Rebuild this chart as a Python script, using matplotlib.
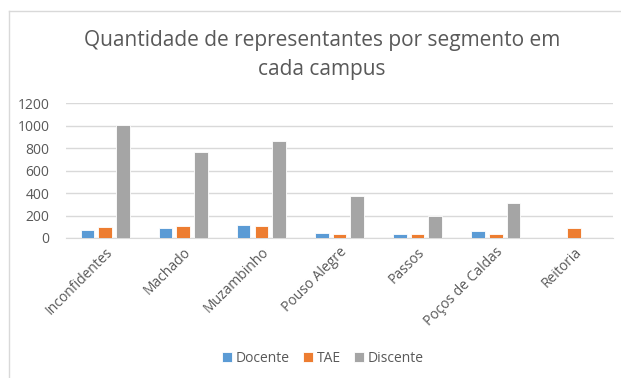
import numpy as np
import matplotlib.pyplot as plt
from matplotlib.lines import Line2D

plt.rcParams['font.family'] = ['Open Sans', 'DejaVu Sans']

campi = ['Inconfidentes', 'Machado', 'Muzambinho', 'Pouso Alegre',
         'Passos', 'Poços de Caldas', 'Reitoria']
docente = [74, 92, 119, 47, 39, 62, 0]
tae = [101, 107, 107, 39, 39, 39, 92]
discente = [1010, 767, 868, 373, 198, 314, 0]

series = [('Docente', docente, '#5B9BD5'),
          ('TAE', tae, '#ED7D31'),
          ('Discente', discente, '#A5A5A5')]

fig = plt.figure(figsize=(6.21, 3.78), dpi=100)
ax = fig.add_axes([0.1063, 0.3704, 0.8807, 0.3561])

x = np.arange(len(campi))
w = 0.175
step = 0.227
for i, (nome, vals, cor) in enumerate(series):
    ax.bar(x + (i - 1) * step, vals, w, color=cor, edgecolor='white',
           linewidth=0.6, label=nome, zorder=3)

ax.set_xlim(-0.5, len(campi) - 0.5)
ax.set_ylim(0, 1200)
ax.set_yticks(range(0, 1201, 200))
ax.set_xticks(x)
ax.set_xticklabels(campi, rotation=45, ha='right', va='top',
                   rotation_mode='anchor')
ax.tick_params(axis='both', length=0, labelsize=10, labelcolor='#595959')
ax.tick_params(axis='x', pad=5)
ax.tick_params(axis='y', pad=12)
ax.grid(axis='y', color='#D9D9D9', linewidth=1, zorder=0)
for s in ['top', 'right', 'left']:
    ax.spines[s].set_visible(False)
ax.spines['bottom'].set_color('#D9D9D9')

fig.text(0.518, 1 - 55 / 378,
         'Quantidade de representantes por segmento em\ncada campus',
         ha='center', va='center', fontsize=15, color='#595959',
         linespacing=1.45)

fig.legend(loc='center', bbox_to_anchor=(0.52, 1 - 358 / 378), ncol=3,
           frameon=False, fontsize=10, labelcolor='#595959',
           handlelength=0.7, handleheight=0.7, handletextpad=0.25,
           columnspacing=1.0)

# moldura do gráfico
fig.add_artist(Line2D([8.5 / 621, 8.5 / 621], [0, 1 - 10.5 / 378],
                      transform=fig.transFigure, color='#D9D9D9', lw=1))
fig.add_artist(Line2D([8.5 / 621, 1], [1 - 10.5 / 378, 1 - 10.5 / 378],
                      transform=fig.transFigure, color='#D9D9D9', lw=1))

fig.savefig('out.png', dpi=100, facecolor='white')
